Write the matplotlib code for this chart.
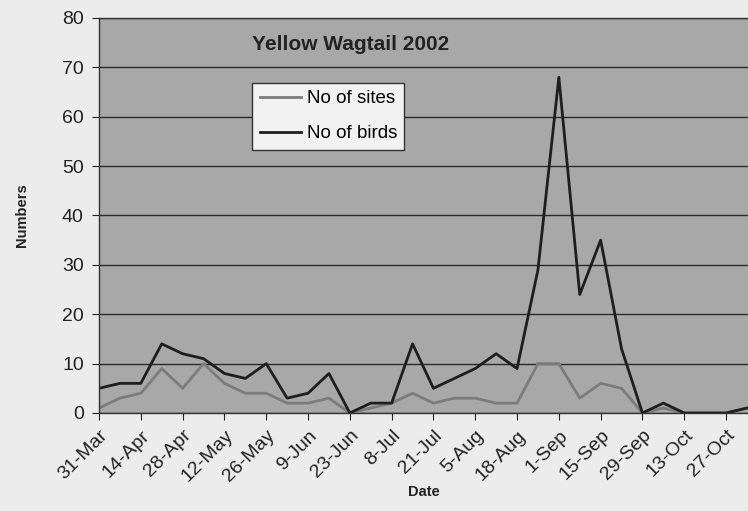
import matplotlib
matplotlib.use("Agg")
import matplotlib.pyplot as plt

plt.rcParams['font.family'] = ['Liberation Sans', 'DejaVu Sans']

# weekly counts, 31-Mar to 3-Nov 2002
week_labels = ['31-Mar', '', '14-Apr', '', '28-Apr', '', '12-May', '', '26-May', '',
               '9-Jun', '', '23-Jun', '', '8-Jul', '', '21-Jul', '', '5-Aug', '',
               '18-Aug', '', '1-Sep', '', '15-Sep', '', '29-Sep', '', '13-Oct', '',
               '27-Oct', '']
no_of_sites = [1, 3, 4, 9, 5, 10, 6, 4, 4, 2, 2, 3, 0, 1, 2, 4,
               2, 3, 3, 2, 2, 10, 10, 3, 6, 5, 0, 1, 0, 0, 0, 1]
no_of_birds = [5, 6, 6, 14, 12, 11, 8, 7, 10, 3, 4, 8, 0, 2, 2, 14,
               5, 7, 9, 12, 9, 29, 68, 24, 35, 13, 0, 2, 0, 0, 0, 1]

fig = plt.figure(figsize=(7.48, 5.11), dpi=100, facecolor='#ececec')
ax = fig.add_axes([0.1324, 0.1918, 0.8676, 0.773])
ax.set_facecolor('#a8a8a8')

x = list(range(len(week_labels)))
ax.plot(x, no_of_sites, color='#7c7c7c', lw=2.0, label='No of sites')
ax.plot(x, no_of_birds, color='#1e1e1e', lw=2.0, label='No of birds')

ax.set_ylim(0, 80)
ax.set_xlim(0, 31.05)
ax.set_yticks(range(0, 81, 10))
ax.yaxis.grid(True, color='#2a2a2a', lw=1.0)
ax.set_axisbelow(True)

ticks = [i for i, l in enumerate(week_labels) if l]
ax.set_xticks(ticks)
ax.set_xticklabels([week_labels[i] for i in ticks], rotation=45, ha='right',
                   rotation_mode='anchor', fontsize=14, color='#222222')
ax.tick_params(axis='y', labelsize=14, colors='#222222', length=5, direction='out', pad=6)
ax.tick_params(axis='x', length=5, direction='out', colors='#222222', pad=5)

ax.spines['right'].set_visible(False)
for s in ['left', 'bottom', 'top']:
    ax.spines[s].set_color('#333333')
    ax.spines[s].set_linewidth(1.0)

ax.set_ylabel('Numbers', fontsize=10.5, fontweight='bold', color='#222222', labelpad=24)
ax.set_xlabel('Date', fontsize=10.5, fontweight='bold', color='#222222', labelpad=0)

ax.text(0.387, 0.932, 'Yellow Wagtail 2002', transform=ax.transAxes, ha='center',
        va='center', fontsize=15, fontweight='bold', color='#222222')

leg = ax.legend(loc='upper left', bbox_to_anchor=(0.236, 0.836), fontsize=13.5,
                frameon=True, fancybox=False, handlelength=2.2, handletextpad=0.3,
                borderpad=0.4, labelspacing=0.95, borderaxespad=0)
leg.get_frame().set_facecolor('#f2f2f2')
leg.get_frame().set_edgecolor('#333333')
leg.get_frame().set_alpha(1)

plt.savefig('out.png', dpi=100, facecolor=fig.get_facecolor())
